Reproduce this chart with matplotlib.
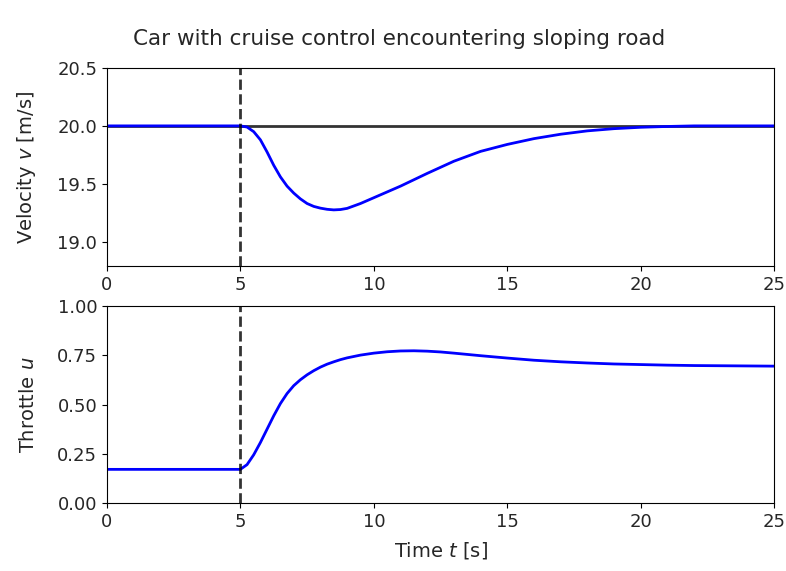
import matplotlib
matplotlib.use('Agg')
import matplotlib.pyplot as plt

# velocity response
t_v = [0.0, 5.0, 5.25, 5.5, 5.75, 6.0, 6.25, 6.5, 6.75, 7.0, 7.25, 7.5, 7.75,
       8.0, 8.25, 8.5, 8.75, 9.0, 9.5, 10.0, 10.5, 11.0, 11.5, 12.0, 13.0,
       14.0, 15.0, 16.0, 17.0, 18.0, 19.0, 20.0, 21.0, 22.0, 25.0]
v = [20.0, 20.0, 19.99, 19.95, 19.88, 19.775, 19.66, 19.56, 19.48, 19.42,
     19.37, 19.33, 19.305, 19.29, 19.28, 19.275, 19.278, 19.288, 19.33,
     19.38, 19.43, 19.48, 19.535, 19.59, 19.695, 19.78, 19.84, 19.89, 19.928,
     19.957, 19.976, 19.988, 19.995, 20.0, 20.0]

# throttle
t_u = [0.0, 5.0, 5.25, 5.5, 5.75, 6.0, 6.25, 6.5, 6.75, 7.0, 7.25, 7.5, 7.75,
       8.0, 8.25, 8.5, 8.75, 9.0, 9.5, 10.0, 10.5, 11.0, 11.5, 12.0, 12.5,
       13.0, 14.0, 15.0, 16.0, 17.0, 18.0, 19.0, 20.0, 21.0, 22.0, 23.0,
       24.0, 25.0]
u = [0.171, 0.171, 0.195, 0.245, 0.307, 0.375, 0.443, 0.505, 0.556, 0.596,
     0.626, 0.651, 0.672, 0.69, 0.705, 0.717, 0.728, 0.737, 0.751, 0.761,
     0.768, 0.772, 0.773, 0.771, 0.767, 0.761, 0.748, 0.736, 0.725, 0.717,
     0.711, 0.706, 0.703, 0.700, 0.698, 0.697, 0.696, 0.695]

v_ref = 20.0
t_hill = 5.0

plt.rcParams['text.color'] = '#262626'
plt.rcParams['axes.labelcolor'] = '#262626'
plt.rcParams['xtick.labelcolor'] = '#262626'
plt.rcParams['ytick.labelcolor'] = '#262626'

fig = plt.figure(figsize=(7.86, 5.71), dpi=100)
tick_fs = 13
label_fs = 14

ax1 = fig.add_axes([0.136, 0.534, 0.849, 0.347])
ax1.plot([0, 25], [v_ref, v_ref], 'k-', linewidth=2, alpha=0.8)
ax1.plot(t_v, v, 'b-', linewidth=2)
ax1.axvline(t_hill, color='k', linestyle='--', linewidth=2, alpha=0.8)
ax1.set_xlim(0, 25)
ax1.set_ylim(18.79, 20.5)
ax1.set_yticks([19.0, 19.5, 20.0, 20.5])
ax1.set_xticks([0, 5, 10, 15, 20, 25])
ax1.set_ylabel('Velocity $v$ [m/s]', fontsize=label_fs, labelpad=14)
ax1.tick_params(labelsize=tick_fs)

ax2 = fig.add_axes([0.136, 0.119, 0.849, 0.345])
ax2.plot(t_u, u, 'b-', linewidth=2)
ax2.axvline(t_hill, color='k', linestyle='--', linewidth=2, alpha=0.8)
ax2.set_xlim(0, 25)
ax2.set_ylim(0, 1)
ax2.set_yticks([0, 0.25, 0.5, 0.75, 1.0])
ax2.set_xticks([0, 5, 10, 15, 20, 25])
ax2.set_xlabel('Time $t$ [s]', fontsize=label_fs, labelpad=7)
ax2.set_ylabel('Throttle $u$', fontsize=label_fs, labelpad=14)
ax2.tick_params(labelsize=tick_fs)

fig.suptitle('Car with cruise control encountering sloping road',
             fontsize=15.5, x=0.508, y=0.95)

fig.savefig('out.png', dpi=100)
